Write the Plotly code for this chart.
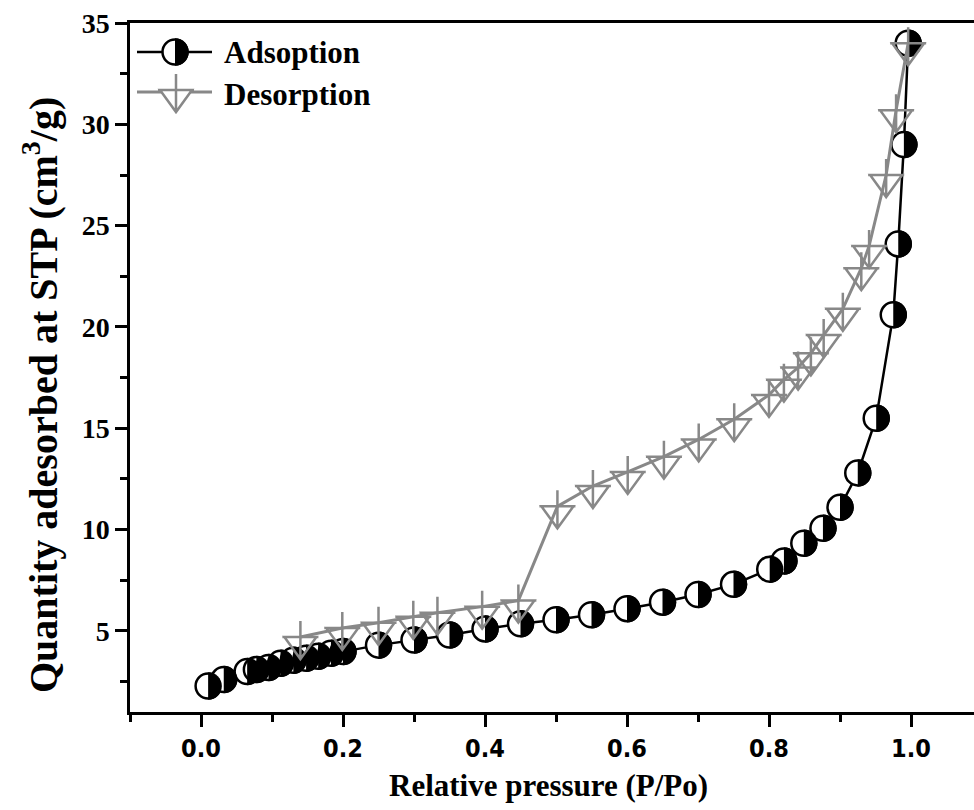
import plotly.graph_objects as go

# ---- data ----
ads_x = [0.010, 0.032, 0.065, 0.078, 0.095, 0.112, 0.130, 0.148, 0.165, 0.183, 0.200,
         0.250, 0.300, 0.350, 0.400, 0.450, 0.500, 0.550, 0.600, 0.650, 0.700, 0.750,
         0.801, 0.821, 0.849, 0.876, 0.900, 0.925, 0.951, 0.975, 0.982, 0.990, 0.996]
ads_y = [2.28, 2.60, 3.00, 3.10, 3.20, 3.40, 3.55, 3.65, 3.75, 3.90, 3.98,
         4.30, 4.55, 4.80, 5.10, 5.35, 5.55, 5.80, 6.10, 6.42, 6.80, 7.30,
         8.05, 8.45, 9.33, 10.07, 11.10, 12.80, 15.50, 20.60, 24.10, 29.00, 34.00]

des_x = [0.996, 0.979, 0.965, 0.941, 0.930, 0.904, 0.877, 0.859, 0.841, 0.821, 0.800,
         0.751, 0.701, 0.652, 0.601, 0.552, 0.502, 0.447, 0.396, 0.333, 0.299, 0.250,
         0.199, 0.140]
des_y = [34.00, 30.70, 27.50, 24.00, 22.90, 20.90, 19.60, 18.70, 18.00, 17.40, 16.65,
         15.45, 14.45, 13.60, 12.85, 12.15, 11.15, 6.50, 6.20, 5.90, 5.70, 5.40,
         5.15, 4.70]

y_tickvals = [5, 10, 15, 20, 25, 30, 35]
series_names = ["Adsoption", "Desorption"]
x_title = "Relative pressure (P/Po)"
y_title = "Quantity adesorbed at STP (cm<sup>3</sup>/g)"

# ---- style ----
GRAY = "#888888"
SERIF = "Liberation Serif, Times New Roman, serif"
NARROW = "Liberation Sans Narrow, DejaVu Sans Condensed, Arial Narrow, Liberation Sans, sans-serif"

R = 13.75
K = 0.5523 * R
HALF_DISK = (f"M 0,{R} C {K},{R} {R},{K} {R},0 C {R},{-K} {K},{-R} 0,{-R} Z")
TRI_CROSS = ("M -16,0 L 16,0 L 0,-22 Z M -18,0 L 18,0 M 0,16 L 0,-22")

# the figure is a little wider than the 974 px window: the frame's right
# end lies just outside the view, as in the (cropped) reference
FIG_W, FIG_H = 982, 810
PL, PT, PR, PB = 130, 23, 982, 712
W, H = PR - PL, PB - PT

fig = go.Figure()
fig.add_trace(go.Scatter(
    x=ads_x, y=ads_y, mode="lines+markers", name=series_names[0],
    line=dict(color="black", width=2.5),
    marker=dict(symbol="circle", size=25, color="white",
                line=dict(color="black", width=2.5)),
    showlegend=False, cliponaxis=False))
fig.add_trace(go.Scatter(
    x=des_x, y=des_y, mode="lines", name=series_names[1],
    line=dict(color=GRAY, width=3), showlegend=False))

shapes = []
for xv, yv in zip(ads_x, ads_y):
    shapes.append(dict(type="path", xref="x", yref="y", xsizemode="pixel",
                       ysizemode="pixel", xanchor=xv, yanchor=yv, path=HALF_DISK,
                       fillcolor="black", line=dict(width=0), layer="above"))
for xv, yv in zip(des_x, des_y):
    shapes.append(dict(type="path", xref="x", yref="y", xsizemode="pixel",
                       ysizemode="pixel", xanchor=xv, yanchor=yv, path=TRI_CROSS,
                       fillcolor="rgba(0,0,0,0)", line=dict(color=GRAY, width=2.5),
                       layer="above"))

# ---- custom legend (page pixel -> paper coords) ----
def px(xp):
    return (xp - PL) / W
def py(yp):
    return (PB - yp) / H

leg_rows = [(52, "black", 2.5), (92, GRAY, 3)]
for (yy, col, lw) in leg_rows:
    shapes.append(dict(type="line", xref="paper", yref="paper",
                       x0=px(137), x1=px(212), y0=py(yy), y1=py(yy),
                       line=dict(color=col, width=lw), layer="above"))
shapes.append(dict(type="circle", xref="paper", yref="paper", xsizemode="pixel",
                   ysizemode="pixel", xanchor=px(175), yanchor=py(52),
                   x0=-12.5, x1=12.5, y0=-12.5, y1=12.5, fillcolor="white",
                   line=dict(color="black", width=2.5), layer="above"))
shapes.append(dict(type="path", xref="paper", yref="paper", xsizemode="pixel",
                   ysizemode="pixel", xanchor=px(175), yanchor=py(52), path=HALF_DISK,
                   fillcolor="black", line=dict(width=0), layer="above"))
shapes.append(dict(type="path", xref="paper", yref="paper", xsizemode="pixel",
                   ysizemode="pixel", xanchor=px(176), yanchor=py(90), path=TRI_CROSS,
                   fillcolor="white", line=dict(color=GRAY, width=2.5), layer="above"))

annotations = [
    dict(text=series_names[0], x=px(222), y=py(53), xref="paper", yref="paper",
         xanchor="left", yanchor="middle", showarrow=False,
         font=dict(family=SERIF, size=31, color="black", weight="bold")),
    dict(text=series_names[1], x=px(222), y=py(94), xref="paper", yref="paper",
         xanchor="left", yanchor="middle", showarrow=False,
         font=dict(family=SERIF, size=31, color="black", weight="bold")),
    dict(text=x_title, x=px(548), y=py(785), xref="paper", yref="paper",
         xanchor="center", yanchor="middle", showarrow=False,
         font=dict(family=SERIF, size=31, color="black", weight="bold")),
    dict(text=y_title, x=px(40), y=py(395), xref="paper", yref="paper",
         xanchor="center", yanchor="middle", showarrow=False, textangle=-90,
         font=dict(family=SERIF, size=40, color="black", weight="bold")),
]

fig.update_layout(
    template="none",
    width=FIG_W, height=FIG_H,
    margin=dict(l=PL, r=FIG_W - PR, t=PT, b=FIG_H - PB, pad=0, autoexpand=False),
    plot_bgcolor="white", paper_bgcolor="white",
    shapes=shapes, annotations=annotations, showlegend=False,
    xaxis=dict(range=[-0.1, 1.1], showgrid=False, zeroline=False,
               automargin=False,
               showline=True, linecolor="black", linewidth=2.5, mirror=True,
               ticks="outside", ticklen=12, tickwidth=2.5, tickcolor="black",
               tick0=0, dtick=0.2, tickformat=".1f",
               minor=dict(ticks="outside", ticklen=7, tickwidth=2.5,
                          tickcolor="black", dtick=0.1, tick0=0, showgrid=False),
               tickfont=dict(family=NARROW, size=25, color="black", weight="bold")),
    yaxis=dict(range=[1, 35.002], showgrid=False, zeroline=False,
               automargin=False, mirror=False,
               showline=True, linecolor="black", linewidth=2.5,
               ticks="outside", ticklen=12, tickwidth=2.5, tickcolor="black",
               tickmode="array", tickvals=y_tickvals,
               minor=dict(ticks="outside", ticklen=7, tickwidth=2.5,
                          tickcolor="black", dtick=2.5, tick0=0, showgrid=False),
               tickfont=dict(family=SERIF, size=28, color="black", weight="bold")),
)

fig.write_html("out.html", config={"displayModeBar": False},
               post_script="document.body.style.margin='0';"
                           "document.body.style.overflow='hidden';")
